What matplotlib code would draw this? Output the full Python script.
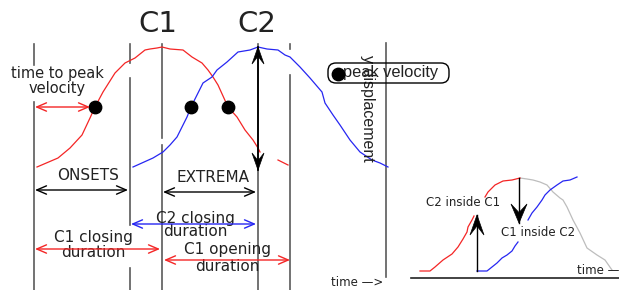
import matplotlib
matplotlib.use('Agg')
import numpy as np
import matplotlib.pyplot as plt
from matplotlib.patches import FancyBboxPatch, Polygon

# diagram drawn in pixel space (x right, y down)
red_x = [37, 58, 70, 82, 90, 95, 103, 115, 125, 135, 145, 150, 157, 162, 170, 183, 192, 202, 208,
         213, 218, 223, 228, 237, 245, 253, 258, 260, np.nan, 278, 288]
red_y = [167, 158, 148, 135, 118, 107, 92, 73, 63, 58, 50, 49, 48, 47, 49, 50, 57, 63, 70,
         77, 85, 96, 107, 117, 130, 140, 148, 152, np.nan, 160, 165]
blue_x = [133, 153, 163, 170, 177, 182, 187, 191, 197, 203, 212, 217, 227, 238, 250, 258, 267, 278,
          285, 290, 300, 310, 322, 325, 333, 340, 350, 360, 372, 380, 388]
blue_y = [167, 158, 152, 145, 137, 127, 117, 107, 95, 83, 77, 70, 62, 52, 50, 47, 49, 50,
          55, 57, 67, 78, 92, 103, 115, 125, 140, 152, 160, 163, 167]
peak_x = [95, 191, 228]
peak_y = [107, 107, 107]

# inset: C2 inside C1 / C1 inside C2
in_red_x = [420, 430, 435, 443, 452, 458, 463, 467, 468, 472, 474, np.nan, 485, 488, 495, 503, 512, 520]
in_red_y = [271, 271, 267, 260, 254, 247, 239, 232, 227, 220, 216, np.nan, 197, 192, 185, 181, 180, 178]
in_gray_x = [520, 527, 533, 540, 547, 553, 560, 563, 567, 573, 580, 587, 597, 605, 612]
in_gray_y = [178, 179, 180, 182, 185, 192, 198, 200, 207, 220, 233, 248, 255, 260, 270]
in_blue_x = [477, 487, 492, 497, 502, 507, 512, 515, 518, np.nan, 528, 532, 537, 542, 545, 550, 557, 563, 570, 577]
in_blue_y = [271, 271, 267, 263, 258, 255, 251, 246, 242, np.nan, 220, 213, 207, 200, 195, 190, 185, 181, 180, 177]

# event lines: x, and (top, bottom) pieces
event_lines = {
    34: [(44, 65), (102, 290)],
    130: [(44, 63), (78, 225), (268, 290)],
    162: [(44, 138), (145, 290)],
    258: [(44, 290)],
    290: [(44, 49), (75, 290)],
    386: [(43, 277)],
}

RED = '#f42525'
BLUE = '#2626f2'
GRAY = '#5a5a5a'
TXT = '#222222'

fig = plt.figure(figsize=(6.19, 2.9), dpi=100)
ax = fig.add_axes([0, 0, 1, 1])
ax.set_xlim(0, 619)
ax.set_ylim(290, 0)
ax.axis('off')

for x, pieces in event_lines.items():
    for y0, y1 in pieces:
        ax.plot([x, x], [y0, y1], color=GRAY, lw=1.2, zorder=1)

ax.plot(red_x, red_y, color=RED, lw=0.9, zorder=2)
ax.plot(blue_x, blue_y, color=BLUE, lw=0.9, zorder=2)
ax.scatter(peak_x, peak_y, s=80, color='black', zorder=4)


def arrow(x0, y0, x1, y1, color, style='<->', hl=0.7, hw=0.3, lw=1.0):
    ax.annotate('', xy=(x1, y1), xytext=(x0, y0),
                arrowprops=dict(arrowstyle=f'{style},head_length={hl},head_width={hw}',
                                color=color, lw=lw, shrinkA=0, shrinkB=0,
                                mutation_scale=10), zorder=5)


def stealth(x0, y0, x1, y1, L, W, lw=1.2, both=False):
    # shaft plus concave filled head(s); 1 data unit = 1 pixel here
    ax.plot([x0, x1], [y0, y1], color='black', lw=lw, zorder=5)
    ends = [((x0, y0), (x1, y1))]
    if both:
        ends.append(((x1, y1), (x0, y0)))
    for (ax0, ay0), (tx, ty) in ends:
        d = np.array([tx - ax0, ty - ay0], float)
        d /= np.hypot(*d)
        n = np.array([-d[1], d[0]])
        tip = np.array([tx, ty])
        pts = [tip, tip - L * d + W * n, tip - 0.55 * L * d, tip - L * d - W * n]
        ax.add_patch(Polygon(pts, closed=True, fc='black', ec='black', lw=0.5, zorder=6))


# labels above
ax.text(158, 24, 'C1', fontsize=21, ha='center', va='center', color=TXT)
ax.text(257, 24, 'C2', fontsize=21, ha='center', va='center', color=TXT)

# time to peak velocity
ax.text(57, 81, 'time to peak\nvelocity', fontsize=10.5, ha='center', va='center',
        color=TXT, linespacing=0.95)
arrow(35, 107, 90, 107, RED)

# peak-to-peak black arrow
stealth(258, 170, 258, 47, L=17, W=6, lw=1.3, both=True)

# onsets / extrema
ax.text(88, 176, 'ONSETS', fontsize=11, ha='center', va='center', color=TXT)
arrow(35, 190, 128, 190, 'black')
ax.text(213, 177, 'EXTREMA', fontsize=11, ha='center', va='center', color=TXT)
arrow(163, 192, 256, 192, 'black')

# durations
ax.text(195, 225, 'C2 closing\nduration', fontsize=11, ha='center', va='center',
        color=TXT, linespacing=0.9)
arrow(131, 224, 256, 224, BLUE)
ax.text(93, 245, 'C1 closing\nduration', fontsize=11, ha='center', va='center',
        color=TXT, linespacing=1.0)
arrow(35, 249, 160, 249, RED)
ax.text(227, 258, 'C1 opening\nduration', fontsize=11, ha='center', va='center',
        color=TXT, linespacing=1.1)
arrow(164, 260, 290, 260, RED)

# axis labels
ax.text(368, 108, 'y displacement', fontsize=11.5, rotation=-90, ha='center', va='center',
        color=TXT, family='Liberation Sans')
ax.text(357, 282, 'time —>', fontsize=8.5, ha='center', va='center', color=TXT)

# legend box
ax.add_patch(FancyBboxPatch((328, 63), 121, 20, boxstyle='round,pad=0,rounding_size=8',
                            fc='none', ec='black', lw=1.0, zorder=3))
ax.scatter([338], [74], s=80, color='black', zorder=4)
ax.text(343, 72, 'peak velocity', fontsize=11.8, ha='left', va='center', color=TXT,
        family='Liberation Sans')

# inset
ax.plot([411, 619], [278, 278], color='#222222', lw=1.2)
ax.plot(in_gray_x, in_gray_y, color='#bdbdbd', lw=0.9, zorder=2)
ax.plot(in_red_x, in_red_y, color=RED, lw=0.9, zorder=2)
ax.plot(in_blue_x, in_blue_y, color=BLUE, lw=0.9, zorder=2)
stealth(477, 271, 477, 215, L=20, W=7, lw=1.0)
stealth(519, 178, 519, 223, L=19, W=8, lw=1.0)
ax.text(463, 203, 'C2 inside C1', fontsize=8.5, ha='center', va='center', color=TXT)
ax.text(538, 233, 'C1 inside C2', fontsize=8.5, ha='center', va='center', color=TXT)
ax.text(598, 271, 'time —', fontsize=8.5, ha='center', va='center', color=TXT)

fig.savefig('out.png', dpi=100)
